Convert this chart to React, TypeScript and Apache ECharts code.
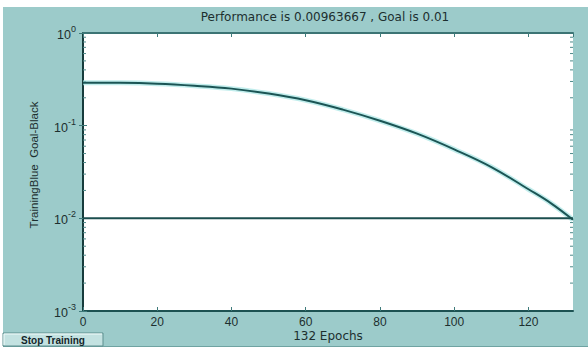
import React, { useEffect, useRef } from "react";
import * as echarts from "echarts";

const epochs = [0, 10, 20, 30, 40, 50, 60, 70, 80, 90, 100, 110, 120, 126, 132];
const trainingPerf = [0.291, 0.29, 0.284, 0.27, 0.251, 0.222, 0.188, 0.149, 0.113, 0.082, 0.0555, 0.0358, 0.0206, 0.0146, 0.00964];
const goalValue = 0.01;
const xMax = 132;
const yDecades = [1, 0.1, 0.01, 0.001];
const minorMultipliers = [2, 3, 4, 5, 6, 7, 8, 9];
const titleText = "Performance is 0.00963667 , Goal is 0.01";
const xName = "132 Epochs";
const yName = "TrainingBlue  Goal-Black";
const buttonText = "Stop Training";

const PANEL = "#9ccbca";
const DARK = "#1d5252";
const TEXT = "#1c2f2f";

export default function App() {
  const ref = useRef<HTMLDivElement>(null);
  useEffect(() => {
    if (!ref.current) return;
    const chart = echarts.init(ref.current, undefined, { renderer: "svg" });
    const perfData = epochs.map((e, i) => [e, trainingPerf[i]]);
    const goalData = [[0, goalValue], [xMax, goalValue]];
    const minorTicks: number[] = [];
    yDecades.slice(1).forEach((d) => minorMultipliers.forEach((m) => minorTicks.push(d * m)));
    const font = "Liberation Sans, Arial, sans-serif";
    const wide = "DejaVu Sans, Verdana, sans-serif";

    chart.setOption({
      animation: false,
      backgroundColor: "#ffffff",
      grid: {
        left: 83, right: 15, top: 33, bottom: 39,
        show: true, backgroundColor: "#ffffff", borderWidth: 0,
      },
      graphic: [
        { type: "rect", z: -10, silent: true, shape: { x: 3, y: 7, width: 585, height: 340 }, style: { fill: PANEL } },
        { type: "line", z: -9, silent: true, shape: { x1: 3, y1: 346.5, x2: 588, y2: 346.5 }, style: { stroke: "#6fa3a2", lineWidth: 1 } },
        {
          type: "text", x: 325, y: 17, style: {
            text: titleText, fill: TEXT, font: `12px ${wide}`, align: "center", verticalAlign: "middle",
          },
        },
        {
          type: "text", x: 328, y: 336, style: {
            text: xName, fill: TEXT, font: `12px ${wide}`, align: "center", verticalAlign: "middle",
          },
        },
        {
          type: "text", x: 34, y: 165, rotation: Math.PI / 2, style: {
            text: yName, fill: TEXT, font: `11.5px ${font}`, align: "center", verticalAlign: "middle",
          },
        },
        {
          type: "group", x: 3, y: 333, children: [
            { type: "rect", shape: { x: 0, y: 0, width: 100, height: 13 }, style: { fill: "#c3e2e1", stroke: "#5d8f8e", lineWidth: 1 } },
            { type: "line", shape: { x1: 1, y1: 1, x2: 99, y2: 1 }, style: { stroke: "#f2fbfb", lineWidth: 1 } },
            { type: "line", shape: { x1: 1, y1: 1, x2: 1, y2: 12 }, style: { stroke: "#f2fbfb", lineWidth: 1 } },
            {
              type: "text", x: 50, y: 7, style: {
                text: buttonText, fill: "#13262a", font: `bold 10px ${font}`, align: "center", verticalAlign: "middle",
              },
            },
          ],
        },
      ],
      xAxis: [
        {
          type: "value", min: 0, max: xMax, interval: 20, position: "bottom",
          axisLine: { show: true, lineStyle: { color: DARK, width: 2 } },
          axisTick: { show: true, inside: true, length: 4, lineStyle: { color: "#3f7b7b" } },
          axisLabel: { show: true, showMaxLabel: false, color: TEXT, fontSize: 12, fontFamily: font, margin: 5 },
          splitLine: { show: false },
        },
        {
          type: "value", min: 0, max: xMax, interval: 20, position: "top",
          axisLine: { show: true, onZero: false, lineStyle: { color: "#3c7474", width: 2 } },
          axisTick: { show: true, inside: true, length: 4, lineStyle: { color: "#3f7b7b" } },
          axisLabel: { show: false },
          splitLine: { show: false },
        },
      ],
      yAxis: [
        {
          type: "log", logBase: 10, min: 0.001, max: 1, position: "left",
          axisLine: { show: true, lineStyle: { color: "#2f6a6a", width: 2 } },
          axisTick: { show: true, inside: true, length: 4, lineStyle: { color: "#3f7b7b" } },
          axisLabel: {
            show: true, margin: 7, color: TEXT,
            formatter: (v: number) => `{b|10}{s|${Math.round(Math.log10(v))}}`,
            rich: {
              b: { fontSize: 12.5, fontFamily: font, color: TEXT, verticalAlign: "bottom", lineHeight: 17 },
              s: { fontSize: 9, fontFamily: font, color: TEXT, verticalAlign: "top", lineHeight: 17 },
            },
          },
          splitLine: { show: false },
        },
        {
          type: "log", logBase: 10, min: 0.001, max: 1, position: "right",
          axisLine: { show: true, lineStyle: { color: "#173c3c", width: 2 } },
          axisTick: { show: true, inside: true, length: 4, lineStyle: { color: "#3f7b7b" } },
          axisLabel: { show: false },
          splitLine: { show: false },
        },
      ],
      series: [
        {
          type: "custom", xAxisIndex: 0, yAxisIndex: 0, silent: true, z: 1,
          data: minorTicks.map((v) => [0, v]),
          renderItem: (_p: any, api: any) => {
            const v = api.value(1);
            const l = api.coord([0, v]);
            const r = api.coord([xMax, v]);
            return {
              type: "group", children: [
                { type: "line", shape: { x1: l[0], y1: l[1], x2: l[0] + 3, y2: l[1] }, style: { stroke: "#4f8a8a", lineWidth: 1 } },
                { type: "line", shape: { x1: r[0] - 3, y1: r[1], x2: r[0], y2: r[1] }, style: { stroke: "#4f8a8a", lineWidth: 1 } },
              ],
            };
          },
        },
        {
          type: "line", data: perfData, smooth: 0.4, symbol: "none", z: 2,
          lineStyle: { color: "#a6e6e4", width: 5, opacity: 0.7 },
        },
        {
          type: "line", data: perfData, smooth: 0.4, symbol: "none", z: 3,
          lineStyle: { color: "#1b5555", width: 2 },
        },
        {
          type: "line", data: goalData, symbol: "none", z: 3,
          lineStyle: { color: "#1b4e4e", width: 2 },
        },
      ],
    });
    return () => chart.dispose();
  }, []);
  return <div ref={ref} style={{ position: "fixed", left: 0, top: 0, width: 588, height: 350 }} />;
}
